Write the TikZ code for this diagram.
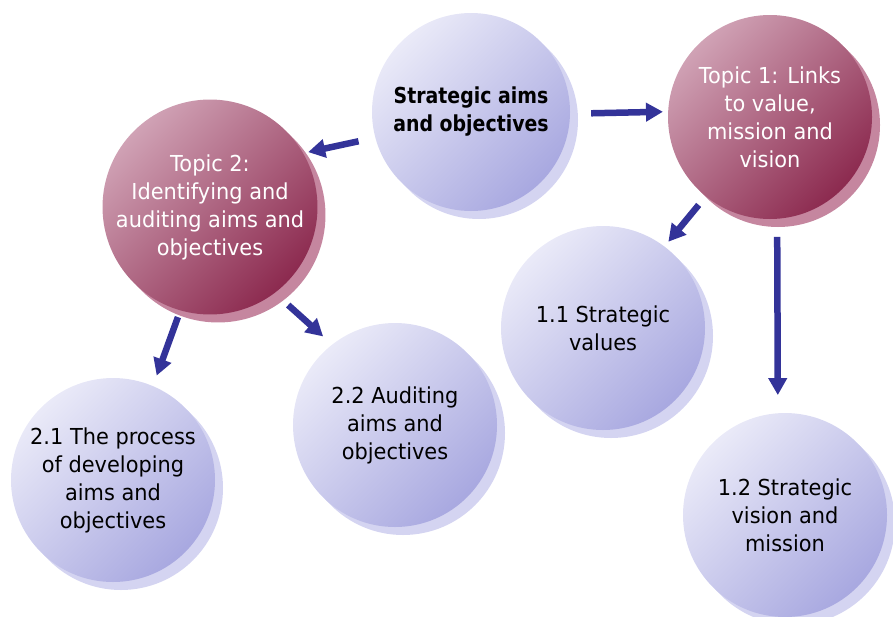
\documentclass[tikz,border=0pt]{standalone}
\usepackage{fontspec}
\setmainfont{DejaVu Sans}[FakeStretch=0.95]
\newfontfamily\narrowbold{DejaVu Sans Bold}[FakeStretch=0.86]
\usepackage{xcolor}
\usetikzlibrary{arrows.meta,shadows}

\definecolor{subLight}{HTML}{EAEAF8}
\definecolor{subDark}{HTML}{A8A8E0}
\definecolor{subShadow}{HTML}{D4D4F1}
\definecolor{topicLight}{HTML}{D0A2B5}
\definecolor{topicDark}{HTML}{8C2A4F}
\definecolor{topicShadow}{HTML}{C5869F}
\definecolor{linkBlue}{HTML}{333399}

\begin{document}
\begin{tikzpicture}[x=1pt, y=-1pt,
  bubble/.style={circle, minimum size=204pt, inner sep=0pt, align=center,
     font=\fontsize{22}{28}\selectfont},
  subtopic/.style={bubble, top color=subLight, bottom color=subDark, shading angle=45,
     general shadow={fill=subShadow, shadow xshift=8pt, shadow yshift=-8pt}},
  topic/.style={bubble, text=white, top color=topicLight, bottom color=topicDark,
     shading angle=45,
     general shadow={fill=topicShadow, shadow xshift=8pt, shadow yshift=-8pt}},
  link/.style={draw=linkBlue, line width=6.5pt,
     -{Triangle[length=17pt,width=18pt]}}]
\useasboundingbox (0,0) rectangle (893,616);

% main theme and the two topics
\node[subtopic, minimum size=198pt, font=\narrowbold\fontsize{22}{28}\selectfont]
  (aims) at (471,112) {Strategic aims\\and objectives};
\node[topic] (topicone) at (770,117) {Topic 1: Links\\to value,\\mission and\\vision};
\node[topic] (topictwo) at (210,207) {Topic 2:\\Identifying and\\auditing aims and\\objectives};

% sub-topics
\node[subtopic] (values)   at (603,328) {1.1 Strategic\\values};
\node[subtopic] (vision)   at (785,515) {1.2 Strategic\\vision and\\mission};
\node[subtopic] (process)  at (113,480) {2.1 The process\\of developing\\aims and\\objectives};
\node[subtopic] (auditing) at (395,425) {2.2 Auditing\\aims and\\objectives};

% links
\draw[link, shorten <=21pt, shorten >=5pt]  (aims.-1)      -- (topicone.177);
\draw[link, shorten <=17pt, shorten >=5pt]  (aims.195)     -- (topictwo.30);
\draw[link, shorten <=11pt, shorten >=6pt]  (topicone.231) -- (values.53);
\draw[link, shorten <=18pt, shorten >=18pt] (topicone.274) -- (vision.94);
\draw[link, shorten <=7pt, shorten >=11pt]  (topictwo.254) -- (process.67);
\draw[link, shorten <=18pt, shorten >=12pt] (topictwo.307) -- (auditing.128);
\end{tikzpicture}
\end{document}
